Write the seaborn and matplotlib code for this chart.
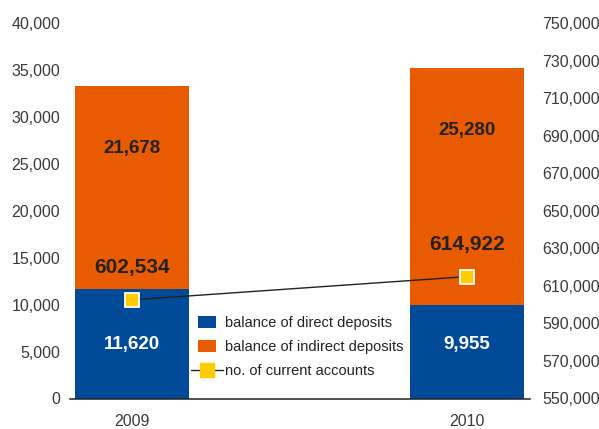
import matplotlib
matplotlib.use("Agg")
import matplotlib.pyplot as plt
from matplotlib.lines import Line2D
from matplotlib.patches import Patch
from matplotlib.legend_handler import HandlerLine2D
from matplotlib.ticker import FuncFormatter, FixedLocator
import seaborn as sns

# Deposit balances (left axis) and number of current accounts (right axis)
years = ["2009", "2010"]
direct_deposits = [11620, 9955]
indirect_deposits = [21678, 25280]
current_accounts = [602534, 614922]

left_ticks = [0, 5000, 10000, 15000, 20000, 25000, 30000, 35000, 40000]
right_ticks = [550000, 570000, 590000, 610000, 630000, 650000, 670000,
               690000, 710000, 730000, 750000]

BLUE = "#004A98"
ORANGE = "#E85B00"
YELLOW = "#FFCC00"
TICK_COLOR = "#3a3a3a"
LABEL_COLOR = "#222222"


class ExtendedLineHandler(HandlerLine2D):
    """Legend line that sticks out a little on both sides of its marker."""

    def create_artists(self, legend, orig_handle, xdescent, ydescent,
                       width, height, fontsize, trans):
        artists = super().create_artists(legend, orig_handle, xdescent, ydescent,
                                         width, height, fontsize, trans)
        line = artists[0]
        xd = list(line.get_xdata())
        mid = (xd[0] + xd[-1]) / 2
        line.set_xdata([xd[0] - 5, mid, xd[-1] + 5])
        line.set_ydata([line.get_ydata()[0]] * 3)
        line.set_markevery([1])
        return artists


sns.set_theme(style="white")
plt.rcParams["font.family"] = ["Liberation Sans", "DejaVu Sans"]

fig = plt.figure(figsize=(5.99, 4.29), dpi=100)
ax = fig.add_axes([70 / 599, 1 - 398.5 / 429, 460 / 599, 375.5 / 429])

bar_width = 0.34
sns.barplot(x=years, y=direct_deposits, color=BLUE, width=bar_width,
            saturation=1, ax=ax, linewidth=0)
sns.barplot(x=years, y=indirect_deposits, bottom=direct_deposits, color=ORANGE,
            width=bar_width, saturation=1, ax=ax, linewidth=0)

ax.set_xlim(-0.185, 1.188)
ax.set_ylim(left_ticks[0], left_ticks[-1])
ax.yaxis.set_major_locator(FixedLocator(left_ticks))
ax.yaxis.set_major_formatter(FuncFormatter(lambda v, p: f"{int(v):,}"))
ax.set_xlabel("")
ax.set_ylabel("")
for side in ("left", "right", "top"):
    ax.spines[side].set_visible(False)
ax.spines["bottom"].set_color("#222222")
ax.spines["bottom"].set_linewidth(1.1)
ax.tick_params(axis="y", length=0, pad=7, labelsize=11.5, labelcolor=TICK_COLOR)
ax.tick_params(axis="x", length=0, pad=11, labelsize=11.5, labelcolor=TICK_COLOR)
ax.grid(False)

# Second axis for the number of current accounts
ax2 = ax.twinx()
ax2.set_ylim(right_ticks[0], right_ticks[-1])
ax2.yaxis.set_major_locator(FixedLocator(right_ticks))
ax2.yaxis.set_major_formatter(FuncFormatter(lambda v, p: f"{int(v):,}"))
for side in ax2.spines:
    ax2.spines[side].set_visible(False)
ax2.tick_params(axis="y", length=0, pad=9, labelsize=11.5, labelcolor=TICK_COLOR)
ax2.grid(False)

sns.lineplot(x=[0, 1], y=current_accounts, ax=ax2, color="#222222", linewidth=1.0,
             marker="s", markersize=10.5, markerfacecolor=YELLOW,
             markeredgecolor="white", markeredgewidth=1.3, zorder=5)
ax2.set_xlim(-0.185, 1.188)

# Value labels
for i in range(len(years)):
    top = direct_deposits[i] + indirect_deposits[i]
    ax.annotate(f"{direct_deposits[i]:,}", xy=(i, 0), xytext=(0, 39),
                textcoords="offset points", ha="center", va="center",
                color="white", fontsize=13.5, fontweight="bold")
    ax.annotate(f"{indirect_deposits[i]:,}", xy=(i, top), xytext=(0, -45),
                textcoords="offset points", ha="center", va="center",
                color=LABEL_COLOR, fontsize=13.5, fontweight="bold")
    ax2.annotate(f"{current_accounts[i]:,}", xy=(i, current_accounts[i]),
                 xytext=(0, 23), textcoords="offset points", ha="center",
                 va="center", color=LABEL_COLOR, fontsize=15, fontweight="bold",
                 zorder=6)

handles = [
    Patch(facecolor=BLUE, edgecolor="none"),
    Patch(facecolor=ORANGE, edgecolor="none"),
    Line2D([], [], color="#222222", linewidth=1.0, marker="s", markersize=10,
           markerfacecolor=YELLOW, markeredgecolor=YELLOW),
]
labels = ["balance of direct deposits", "balance of indirect deposits",
          "no. of current accounts"]
leg = fig.legend(handles, labels, loc="center", bbox_to_anchor=(0.502, 0.191),
                 fontsize=10.5, frameon=True, facecolor="white", edgecolor="none",
                 framealpha=1, handlelength=1.2, handleheight=0.85,
                 handletextpad=0.6, labelspacing=0.7, borderpad=0.4,
                 handler_map={Line2D: ExtendedLineHandler(numpoints=1)})
for t in leg.get_texts():
    t.set_color(LABEL_COLOR)

fig.savefig("out.png", dpi=100)
